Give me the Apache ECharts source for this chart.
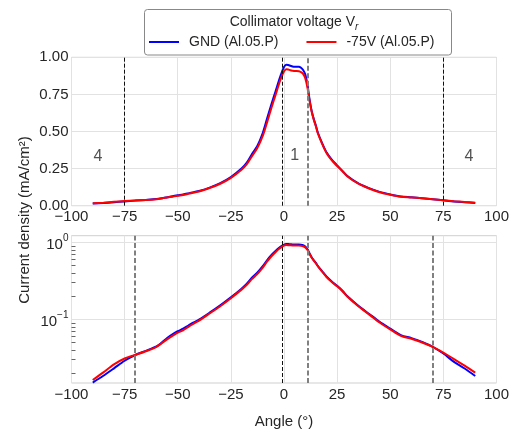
<!DOCTYPE html>
<html><head><meta charset="utf-8">
<script src="https://cdn.jsdelivr.net/npm/echarts@6/dist/echarts.min.js"></script>
<style>html,body{margin:0;padding:0;background:#fff}#c{width:512px;height:432px}</style>
</head><body><div id="c"></div>
<script>
// ---- data ----
const angles = [-90,-85,-80,-75,-70,-65,-60,-57.5,-55,-52.5,-50,-47.5,-45,-42.5,-40,-35,-30,-25,-20,-17.5,-15,-12.5,-10,-8,-6,-4,-2,-1,0,1,2,3,4,5,6,7,8,9,10,11,12,13,14,15,16,18,20,22.5,25,27.5,30,35,40,45,50,55,60,65,70,75,80,85,90];
const gndValues = [0.0151,0.0185,0.0231,0.0290,0.0344,0.0390,0.0445,0.0500,0.0570,0.0640,0.0700,0.0755,0.0830,0.0910,0.0990,0.122,0.152,0.193,0.250,0.290,0.350,0.405,0.490,0.585,0.680,0.770,0.860,0.900,0.935,0.950,0.948,0.943,0.938,0.936,0.937,0.937,0.930,0.915,0.885,0.820,0.720,0.640,0.585,0.540,0.490,0.420,0.360,0.310,0.272,0.235,0.198,0.150,0.118,0.093,0.076,0.0625,0.0570,0.0510,0.0440,0.0360,0.0280,0.0230,0.0184];
const v75Values = [0.0163,0.0205,0.0260,0.0310,0.0345,0.0385,0.0440,0.0490,0.0550,0.0610,0.0670,0.0720,0.0800,0.0880,0.0960,0.119,0.148,0.188,0.243,0.280,0.335,0.390,0.470,0.560,0.655,0.745,0.835,0.875,0.905,0.920,0.918,0.913,0.910,0.908,0.908,0.906,0.900,0.888,0.860,0.800,0.710,0.635,0.580,0.535,0.485,0.415,0.355,0.305,0.268,0.232,0.195,0.148,0.116,0.091,0.074,0.0610,0.0560,0.0500,0.0440,0.0370,0.0305,0.0250,0.0203];
const seriesNames = ['GND (Al.05.P)', '-75V (Al.05.P)'];
const topBlackLines = [-75, -1, 75];
const topGrayLines = [11];
const bottomBlackLines = [-1];
const bottomGrayLines = [-70, 11, 70];
const regionLabelAngles = [-87.5, 5, 87];
const regionLabelLevels = [0.33, 0.335, 0.33];
const regionLabelTexts = ['4', '1', '4'];
const logLabelValues = [0.1, 1];
const logMinorTicks = [0.02,0.03,0.04,0.05,0.06,0.07,0.08,0.09,0.2,0.3,0.4,0.5,0.6,0.7,0.8,0.9];

// ---- chart ----
const FONT = '"Liberation Sans", Arial, sans-serif';
const TXT = '#262626';
const GRIDC = '#e2e2e2';
const minus = v => String(v).replace('-', '\u2212');
const pairs = vals => angles.map((a, i) => [a, vals[i]]);
const vline = (vals, color, width, dash) => vals.map(v => ({xAxis: v, lineStyle: {color, width, type: dash}}));

const xAxis = (gridIndex, extra) => Object.assign({
  type: 'value', gridIndex, min: -100, max: 100, interval: 25,
  axisLine: {show: false, onZero: false}, axisTick: {show: false},
  axisLabel: {color: TXT, fontSize: 15, fontFamily: FONT, margin: 4, formatter: v => minus(v)},
  splitLine: {show: true, lineStyle: {color: GRIDC, width: 1}}
}, extra || {});

const lineSeries = (name, vals, color, axisIdx, marks) => ({
  name, type: 'line', xAxisIndex: axisIdx, yAxisIndex: axisIdx, z: 3,
  data: pairs(vals), symbol: 'none', smooth: 0.3,
  lineStyle: {color, width: 2}, itemStyle: {color},
  markLine: marks ? {silent: true, symbol: 'none', label: {show: false}, animation: false, data: marks} : undefined
});

const option = {
  animation: false,
  grid: [
    {left: 71.5, right: 13, top: 57.3, height: 148.4, show: true, borderColor: '#cfcfcf', borderWidth: 1},
    {left: 71.5, right: 13, top: 235.7, height: 147.3, show: true, borderColor: '#cfcfcf', borderWidth: 1}
  ],
  xAxis: [
    xAxis(0),
    xAxis(1, {name: 'Angle (\u00b0)', nameLocation: 'middle', nameGap: 31,
      nameTextStyle: {color: TXT, fontSize: 15, fontFamily: FONT}})
  ],
  yAxis: [
    {type: 'value', gridIndex: 0, min: 0, max: 1, interval: 0.25,
     axisLine: {show: false, onZero: false}, axisTick: {show: false},
     axisLabel: {color: TXT, fontSize: 15, fontFamily: FONT, margin: 3, formatter: v => v.toFixed(2)},
     splitLine: {show: true, lineStyle: {color: GRIDC, width: 1}}},
    {type: 'log', logBase: 10, gridIndex: 1, min: 0.0149, max: 1.219,
     axisLine: {show: false, onZero: false},
     axisTick: {show: true, inside: true, length: 4, customValues: logMinorTicks, lineStyle: {color: '#666', width: 1}},
     minorTick: {show: false},
     axisLabel: {customValues: logLabelValues, margin: 3, padding: [5, 0, 0, 0],
       formatter: v => v >= 1 ? '{b|10}{s|0}' : '{b|10}{s|\u22121}',
       rich: {b: {fontSize: 15, lineHeight: 24, color: TXT, fontFamily: FONT},
              s: {fontSize: 10, lineHeight: 8, verticalAlign: 'top', color: TXT, fontFamily: FONT}}},
     splitLine: {show: false}}
  ],
  legend: {
    data: seriesNames, left: 149, top: 35, padding: 0, itemWidth: 30, itemHeight: 2, itemGap: 28, z: 10,
    icon: 'rect',
    textStyle: {color: TXT, fontSize: 14, fontFamily: FONT, padding: [0, 0, 0, 5]}
  },
  graphic: [
    {type: 'rect', z: 1, shape: {x: 144.5, y: 9.5, width: 307, height: 45.5, r: 3},
     style: {fill: 'rgba(255,255,255,0.85)', stroke: '#888', lineWidth: 1}},
    {type: 'text', z: 11, x: 294, y: 22,
     style: {text: '{a|Collimator voltage V}{s|r}', textAlign: 'center', textVerticalAlign: 'middle',
       rich: {a: {fontSize: 14, lineHeight: 20, fill: TXT, fontFamily: FONT},
              s: {fontSize: 10, lineHeight: 12, verticalAlign: 'bottom', fontStyle: 'italic', fill: TXT, fontFamily: FONT}}}},
    {type: 'text', z: 11, x: 25, y: 220, rotation: Math.PI / 2,
     style: {text: 'Current density (mA/cm\u00b2)', textAlign: 'center', textVerticalAlign: 'middle',
       fontSize: 15, fill: TXT, fontFamily: FONT}}
  ],
  series: [
    {type: 'line', xAxisIndex: 1, yAxisIndex: 1, data: [], z: 1, silent: true,
     markLine: {silent: true, symbol: 'none', label: {show: false}, animation: false, z: 1,
       data: logLabelValues.map(v => ({yAxis: v, lineStyle: {color: GRIDC, width: 1, type: 'solid'}}))}},
    lineSeries(seriesNames[0], gndValues, '#0000ff', 0),
    lineSeries(seriesNames[1], v75Values, '#ff0000', 0,
      vline(topBlackLines, '#111', 1, [4, 2]).concat(vline(topGrayLines, '#808080', 2, [5, 2.5]))),
    lineSeries(seriesNames[0], gndValues, '#0000ff', 1),
    lineSeries(seriesNames[1], v75Values, '#ff0000', 1,
      vline(bottomBlackLines, '#111', 1, [4, 2]).concat(vline(bottomGrayLines, '#808080', 2, [5, 2.5]))),
    {type: 'scatter', xAxisIndex: 0, yAxisIndex: 0, symbolSize: 0, silent: true,
     data: regionLabelAngles.map((a, i) => [a, regionLabelLevels[i], regionLabelTexts[i]]),
     label: {show: true, position: 'inside', formatter: p => p.data[2], fontSize: 16, color: TXT, fontFamily: FONT}}
  ]
};
const chart = echarts.init(document.getElementById('c'));
chart.setOption(option);
</script></body></html>
